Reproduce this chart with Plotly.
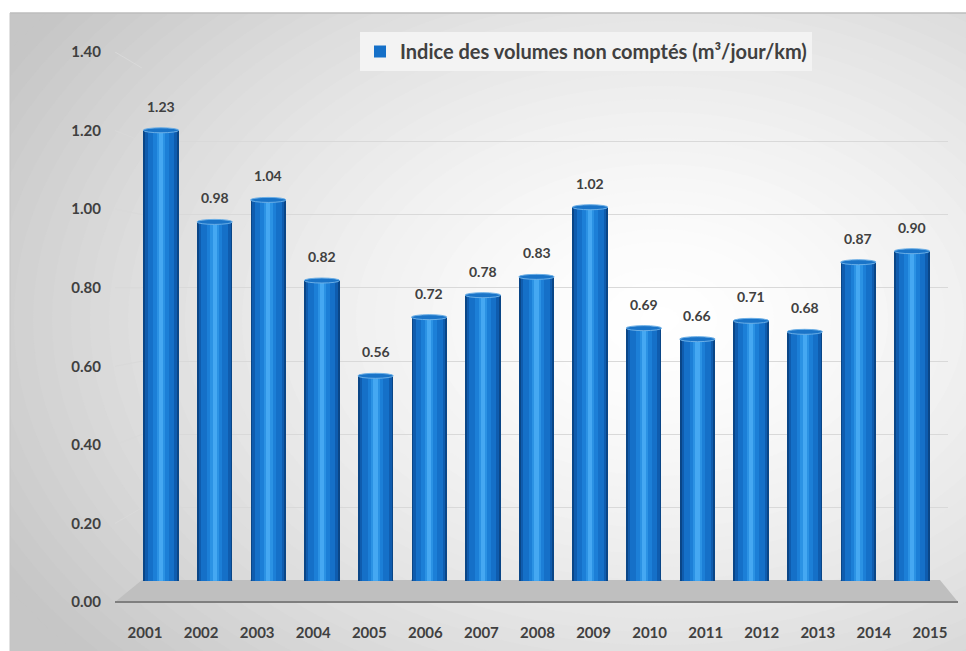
import plotly.graph_objects as go

# ---- data ----
years = list(range(2001, 2016))
values = [1.23, 0.98, 1.04, 0.82, 0.56, 0.72, 0.78, 0.83, 1.02, 0.69, 0.66, 0.71, 0.68, 0.87, 0.90]
y_ticks = [0.0, 0.2, 0.4, 0.6, 0.8, 1.0, 1.2, 1.4]
y_ticktext = [f"{v:.2f}" for v in y_ticks]
series_name = "Indice des volumes non comptés (m³/jour/km)"

W, H = 966, 651
def px(x):
    return x / W
def py(y):
    return 1 - y / H

TXT = "#404040"
FONT = "Lato"

# front (label) axes and back-wall (bar) axes geometry in pixels
FRONT_Y0, FRONT_Y1 = 602, 52
BACK_Y0, BACK_Y1 = 581, 68
front_scale = (FRONT_Y0 - FRONT_Y1) / 1.4
back_scale = (BACK_Y0 - BACK_Y1) / 1.4
bar_w = 0.66  # in category units of the back axis

fig = go.Figure()

# invisible trace to anchor the front axes
fig.add_trace(go.Scatter(x=years, y=[0] * len(years), mode="markers",
                         marker=dict(opacity=0), showlegend=False,
                         hoverinfo="skip", xaxis="x", yaxis="y"))

# cylinder shading stripes (fraction start, fraction end, colour)
stripes = [
    (0.00, 1.00, "#0a4687"),
    (0.05, 0.95, "#0f5cae"),
    (0.12, 0.88, "#1570c8"),
    (0.28, 0.72, "#1c7fd7"),
    (0.38, 0.62, "#2b92e4"),
    (0.44, 0.56, "#45a8f2"),
]
for i, (s, e, c) in enumerate(stripes):
    fig.add_trace(go.Bar(
        x=years, y=values, xaxis="x2", yaxis="y2",
        width=bar_w * (e - s), offset=-bar_w / 2 + bar_w * s,
        marker=dict(color=c, line=dict(width=0)),
        name=series_name, showlegend=(i == 2), hoverinfo="skip",
    ))

shapes = []
# background frame with radial gradient
shapes.append(dict(type="rect", xref="paper", yref="paper", x0=px(10), x1=1.01,
                   y0=-0.01, y1=py(13), fillcolor="#c6c6c6", line=dict(width=0), layer="below"))
cx, cy, Rx, Ry, N = 660, 320, 760, 520, 40
for k in range(N):
    t = 1 - k / N
    g = int(round(255 - 57 * t ** 1.5))
    col = f"rgb({g},{g},{g})"
    shapes.append(dict(type="circle", xref="paper", yref="paper",
                       x0=px(cx - Rx * t), x1=px(cx + Rx * t),
                       y0=py(cy + Ry * t), y1=py(cy - Ry * t),
                       fillcolor=col, line=dict(width=0), layer="below"))
# white outside the frame
shapes.append(dict(type="rect", xref="paper", yref="paper", x0=-0.05, x1=px(10),
                   y0=-0.05, y1=1.05, fillcolor="white", line=dict(width=0), layer="below"))
shapes.append(dict(type="rect", xref="paper", yref="paper", x0=-0.05, x1=1.05,
                   y0=py(13), y1=1.05, fillcolor="white", line=dict(width=0), layer="below"))
shapes.append(dict(type="line", xref="paper", yref="paper", x0=px(10), x1=1.01,
                   y0=py(13), y1=py(13), line=dict(color="#bdbdbd", width=1.5), layer="below"))
shapes.append(dict(type="line", xref="paper", yref="paper", x0=px(10), x1=px(10),
                   y0=-0.01, y1=py(13), line=dict(color="#c4c4c4", width=1), layer="below"))

# side-wall gridlines (front label level -> back wall level)
for v in y_ticks[1:]:
    back_px = BACK_Y0 - v * back_scale
    v_front = (FRONT_Y0 - back_px) / front_scale
    shapes.append(dict(type="line", xref="paper", yref="y", x0=px(115), x1=px(142),
                       y0=v, y1=v_front, line=dict(color="#d9d9d9", width=1), layer="below"))

# floor
shapes.append(dict(type="path", xref="paper", yref="paper",
                   path=f"M{px(115)},{py(602)} L{px(958)},{py(602)} L{px(940)},{py(580)} L{px(142)},{py(580)} Z",
                   fillcolor="#bfbfbf", line=dict(width=0), layer="between"))
shapes.append(dict(type="line", xref="paper", yref="paper", x0=px(115), x1=px(958),
                   y0=py(602), y1=py(602), line=dict(color="#7f7f7f", width=2), layer="between"))

# cylinder bottoms and tops
hb = 7 / back_scale
ht = 2.5 / back_scale
for yr, v in zip(years, values):
    shapes.append(dict(type="circle", xref="x2", yref="y2",
                       x0=yr - bar_w / 2, x1=yr + bar_w / 2, y0=-hb, y1=hb,
                       fillcolor="#115fb0", line=dict(width=0), layer="between"))
    shapes.append(dict(type="circle", xref="x2", yref="y2",
                       x0=yr - bar_w / 2, x1=yr + bar_w / 2, y0=v - ht, y1=v + ht,
                       fillcolor="#1a74c8", line=dict(color="#6aaee6", width=1), layer="above"))

annotations = []
for yr, v in zip(years, values):
    annotations.append(dict(x=yr, y=v, xref="x2", yref="y2", text=f"{v:.2f}",
                            showarrow=False, yshift=24,
                            font=dict(family=FONT, size=14, color=TXT, weight="bold")))

tickfont = dict(family=FONT, size=15, color=TXT, weight="bold")

fig.update_layout(
    width=W, height=H,
    margin=dict(l=0, r=0, t=0, b=0, autoexpand=False),
    paper_bgcolor="white",
    plot_bgcolor="rgba(0,0,0,0)",
    barmode="overlay",
    bargap=0,
    shapes=shapes,
    annotations=annotations,
    xaxis=dict(domain=[px(117), px(958)], range=[2000.5, 2015.5], tickvals=years,
               ticktext=[str(y) for y in years], ticks="outside", ticklen=17,
               tickcolor="rgba(0,0,0,0)", showgrid=False, zeroline=False, showline=False,
               tickfont=tickfont, anchor="y", fixedrange=True, automargin=False),
    yaxis=dict(domain=[py(FRONT_Y0), py(FRONT_Y1)], range=[0, 1.4], tickvals=y_ticks,
               ticktext=y_ticktext, ticks="outside", ticklen=12,
               tickcolor="rgba(0,0,0,0)", showgrid=False, zeroline=False, showline=False,
               tickfont=tickfont, anchor="x", fixedrange=True, automargin=False),
    xaxis2=dict(domain=[px(142), px(948)], range=[2001 - 0.354, 2015 + 0.671],
                visible=False, anchor="y2", fixedrange=True, automargin=False),
    yaxis2=dict(domain=[py(BACK_Y0), py(BACK_Y1)], range=[0, 1.4], tickvals=y_ticks,
                showticklabels=False, showgrid=True, gridcolor="#d9d9d9", gridwidth=1,
                zeroline=False, showline=False, anchor="x2", fixedrange=True, automargin=False),
    showlegend=True,
    legend=dict(x=px(360), y=py(32), xanchor="left", yanchor="top",
                bgcolor="#f3f3f3", borderwidth=0,
                font=dict(family=FONT, size=20, color=TXT, weight="bold")),
)

fig.write_html("out.html", config={"displayModeBar": False},
               post_script="document.body.style.margin='0';document.body.style.overflow='hidden';")
